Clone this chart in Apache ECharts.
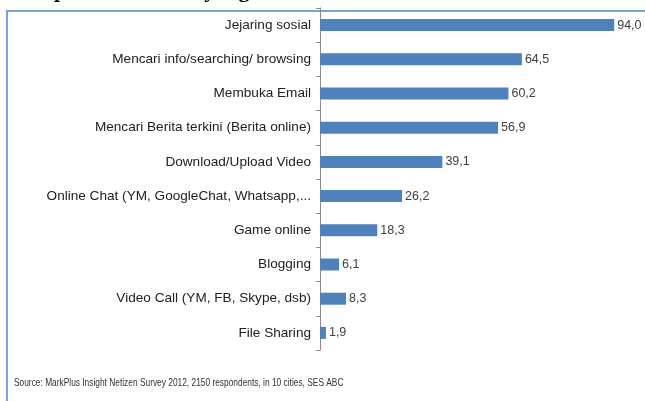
<!DOCTYPE html>
<html>
<head>
<meta charset="utf-8">
<script src="https://cdn.jsdelivr.net/npm/echarts@6/dist/echarts.min.js"></script>
<style>
  html, body { margin: 0; padding: 0; background: #fff; }
  #chart { width: 645px; height: 401px; }
</style>
</head>
<body>
<div id="chart"></div>
<script>
// activities, top to bottom as in the picture
var categories = [
  'Jejaring sosial',
  'Mencari info/searching/ browsing',
  'Membuka Email',
  'Mencari Berita terkini (Berita online)',
  'Download/Upload Video',
  'Online Chat (YM, GoogleChat, Whatsapp,...',
  'Game online',
  'Blogging',
  'Video Call (YM, FB, Skype, dsb)',
  'File Sharing'
];
var values = [94.0, 64.5, 60.2, 56.9, 39.1, 26.2, 18.3, 6.1, 8.3, 1.9];

var sourceText = 'Source: MarkPlus Insight Netizen Survey 2012, 2150 respondents, in 10 cities, SES ABC';
var headText = 'Aplikasi Internet yang';

var font = "'Liberation Sans', sans-serif";

var option = {
  animation: false,
  backgroundColor: '#fff',
  grid: { left: 320, top: 8, width: 313, height: 342 },
  xAxis: {
    type: 'value',
    min: 0,
    max: 100,
    show: false
  },
  yAxis: {
    type: 'category',
    inverse: true,
    data: categories,
    axisLine: { lineStyle: { color: '#8c8c8c', width: 1 } },
    axisTick: { show: true, length: 4, lineStyle: { color: '#8c8c8c' } },
    axisLabel: {
      color: '#222',
      fontFamily: font,
      fontSize: 13.6,
      margin: 9
    }
  },
  series: [{
    type: 'bar',
    data: values,
    barWidth: 12,
    itemStyle: { color: '#4f81bd' },
    label: {
      show: true,
      position: 'right',
      distance: 3,
      color: '#404040',
      fontFamily: font,
      fontSize: 12.5,
      formatter: function (p) { return p.value.toFixed(1).replace('.', ','); }
    }
  }],
  graphic: [
    {
      type: 'rect',
      shape: { x: 7, y: 11, width: 700, height: 500 },
      style: { fill: 'none', stroke: '#7aa3d6', lineWidth: 2 },
      silent: true
    },
    {
      type: 'text',
      x: 38,
      y: -9,
      style: {
        text: headText,
        font: 'bold 22px "Liberation Serif", serif',
        fill: '#000',
        verticalAlign: 'middle'
      }
    },
    {
      type: 'text',
      x: 14,
      y: 383,
      scaleX: 0.76,
      style: {
        text: sourceText,
        font: '11px ' + font,
        fill: '#333',
        verticalAlign: 'middle'
      }
    }
  ]
};

var myChart = echarts.init(document.getElementById('chart'));
myChart.setOption(option);
</script>
</body>
</html>
